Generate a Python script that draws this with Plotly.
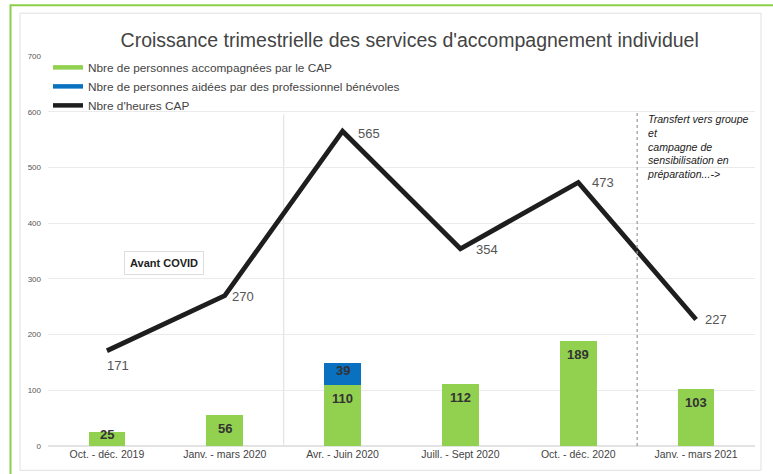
import plotly.graph_objects as go

categories = ["Oct. - déc. 2019", "Janv. - mars 2020", "Avr. - Juin 2020",
              "Juill. - Sept 2020", "Oct. - déc. 2020", "Janv. - mars 2021"]
personnes_cap = [25, 56, 110, 112, 189, 103]
personnes_benevoles = [0, 0, 39, 0, 0, 0]
heures_cap = [171, 270, 565, 354, 473, 227]
y_ticks = [0, 100, 200, 300, 400, 500, 600, 700]

GREEN = "#92D050"
BLUE = "#0A70C0"
FONT = "Liberation Sans, Arial, Helvetica, sans-serif"

fig = go.Figure()

fig.add_trace(go.Bar(x=categories, y=personnes_cap, marker=dict(color=GREEN, line=dict(width=0)),
                     width=0.31, showlegend=False, hoverinfo="skip"))
fig.add_trace(go.Bar(x=categories, y=personnes_benevoles, marker=dict(color=BLUE, line=dict(width=0)),
                     width=0.31, showlegend=False, hoverinfo="skip"))
fig.add_trace(go.Scatter(x=categories, y=heures_cap, mode="lines",
                         line=dict(color="#1e1e1e", width=4.8), showlegend=False, hoverinfo="skip"))

# legend entries (line symbols like the reference)
for name, col in [("Nbre de personnes accompagnées par le CAP", GREEN),
                  ("Nbre de personnes aidées par des professionnel bénévoles", BLUE),
                  ("Nbre d'heures CAP", "#1e1e1e")]:
    fig.add_trace(go.Scatter(x=[None], y=[None], mode="lines", name=name,
                             line=dict(color=col, width=4.5)))

annotations = []
# bar labels
for c, v in zip(categories, personnes_cap):
    annotations.append(dict(x=c, y=v, xref="x", yref="y", text=f"<b>{v}</b>", showarrow=False,
                            yshift=-13.5 if v > 40 else -2,
                            font=dict(size=13, color="#333333", family=FONT)))
for c, base, v in zip(categories, personnes_cap, personnes_benevoles):
    if v:
        annotations.append(dict(x=c, y=base + v / 2, xref="x", yref="y", text=f"<b>{v}</b>",
                                showarrow=False, yshift=3,
                                font=dict(size=13, color="#333333", family=FONT)))
# line labels
offsets = [(11, -15), (18, -1), (26, -2), (27, -1), (25, 0), (20, 0)]
for c, v, (dx, dy) in zip(categories, heures_cap, offsets):
    annotations.append(dict(x=c, y=v, xref="x", yref="y", text=str(v), showarrow=False,
                            xshift=dx, yshift=dy,
                            font=dict(size=13, color="#555555", family=FONT)))

annotations.append(dict(x=0.485, y=329, xref="x", yref="y", text="<b>Avant COVID</b>", showarrow=False,
                        font=dict(size=11, color="#222222", family=FONT),
                        bordercolor="#dddddd", borderwidth=1, borderpad=5, bgcolor="white"))
annotations.append(dict(x=4.5, y=602, xref="x", yref="y", xshift=8,
                        text="<i>Transfert vers groupe<br>et<br>campagne de<br>sensibilisation en<br>préparation...-></i>",
                        showarrow=False, xanchor="left", yanchor="top", align="left",
                        font=dict(size=10.6, color="#222222", family=FONT)))

fig.update_layout(
    width=773, height=474,
    margin=dict(l=48, r=18, t=56, b=28),
    paper_bgcolor="white", plot_bgcolor="white",
    barmode="stack",
    font=dict(family=FONT),
    title=dict(text="Croissance trimestrielle des services d'accompagnement individuel",
               x=0.53, xanchor="center", y=1 - 40 / 474, yanchor="middle",
               font=dict(size=19.5, color="#444444", family=FONT)),
    legend=dict(x=0.0, y=1.008, xanchor="left", yanchor="top", bgcolor="rgba(0,0,0,0)",
                font=dict(size=11.8, color="#444444", family=FONT), tracegroupgap=0,
                itemwidth=30, traceorder="normal"),
    annotations=annotations,
    xaxis=dict(type="category", range=[-0.5, 5.5], showgrid=False, zeroline=False,
               showline=False, ticks="",
               tickfont=dict(size=10.5, color="#444444", family=FONT)),
    yaxis=dict(range=[0, 700], tickvals=y_ticks, showgrid=True, gridcolor="#ebebeb",
               gridwidth=1, zeroline=True, zerolinecolor="#e3e3e3", showline=False, ticks="",
               ticklabelstandoff=6,
               tickfont=dict(size=8, color="#555555", family=FONT)),
    shapes=[
        dict(type="line", xref="x", yref="y", x0=1.5, x1=1.5, y0=0, y1=595,
             line=dict(color="#e3e3e3", width=1.2), layer="below"),
        dict(type="line", xref="x", yref="y", x0=4.5, x1=4.5, y0=0, y1=600,
             line=dict(color="#999999", width=1.2, dash="dot")),
        dict(type="rect", xref="paper", yref="paper",
             x0=(20 - 48) / 707, x1=(761 - 48) / 707,
             y0=(445.7 - 470) / 389.9, y1=(445.7 - 13) / 389.9,
             line=dict(color="#e0e0e0", width=1)),
        dict(type="rect", xref="paper", yref="paper",
             x0=(10.5 - 48) / 707, x1=(800 - 48) / 707,
             y0=(445.7 - 500) / 389.9, y1=(445.7 - 5) / 389.9,
             line=dict(color="#8BCF4A", width=2)),
    ],
)

fig.write_html("out.html", config={"displayModeBar": False},
               post_script="document.body.style.margin='0';document.body.style.overflow='hidden';")
